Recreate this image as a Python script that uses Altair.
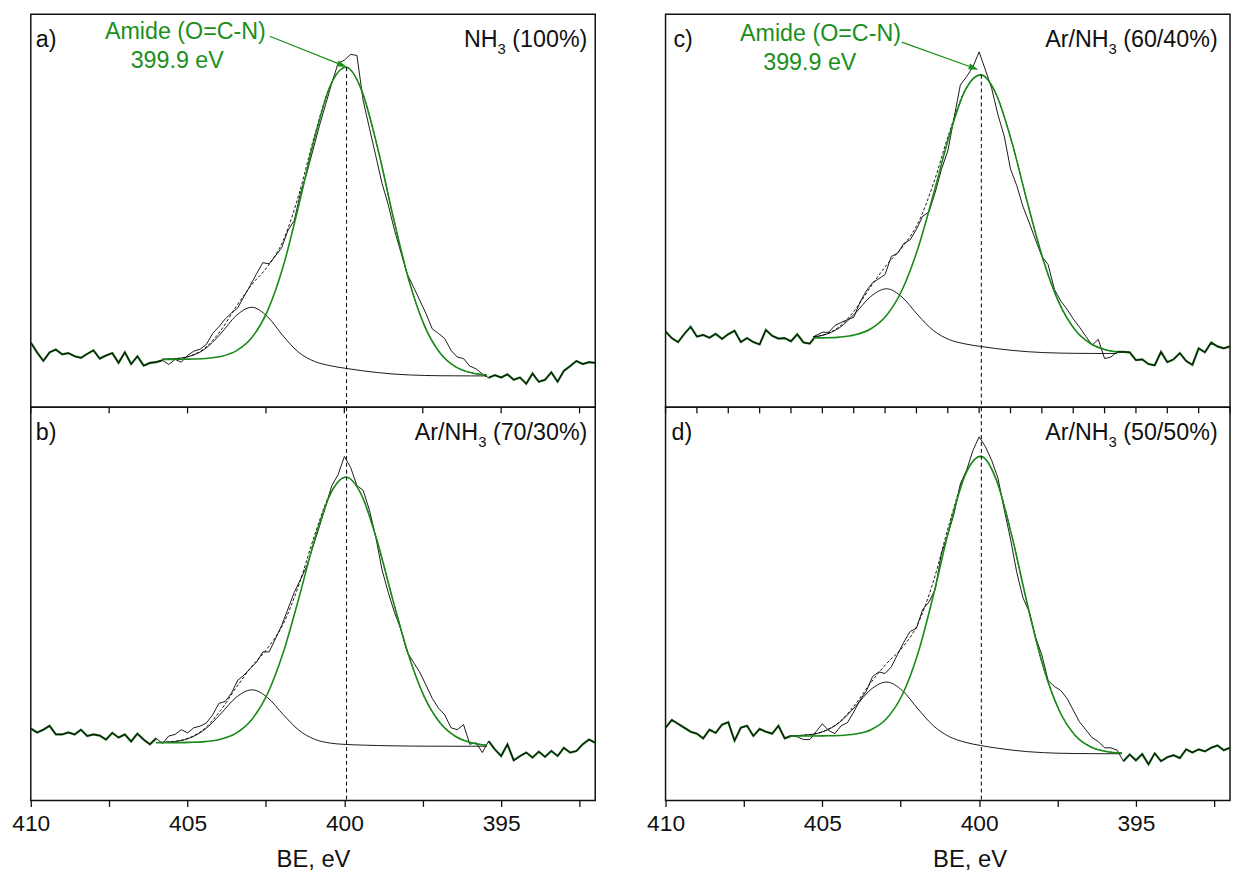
import altair as alt
import pandas as pd

# ---------------- data ----------------
# binding-energy grid of the measured spectra (eV), 410 -> 392 in 0.2 eV steps
E = [round(410 - 0.2 * i, 1) for i in range(91)]

RAW_A = [16.5, 14.0, 11.8, 14.0, 14.7, 13.5, 13.8, 13.0, 12.6, 13.6,
         14.5, 12.4, 13.2, 13.8, 11.3, 14.0, 11.0, 13.0, 10.6, 11.3,
         11.5, 12.0, 10.9, 12.2, 11.5, 13.2, 14.3, 14.8, 16.0, 18.8,
         20.5, 22.5, 24.0, 25.3, 28.2, 31.0, 34.0, 36.8, 36.5, 38.5,
         40.6, 45.0, 47.5, 54.5, 59.5, 65.5, 71.5, 77.0, 82.5, 87.5,
         88.3, 89.8, 89.5, 78.0, 71.0, 64.0, 57.0, 51.5, 45.0, 39.5,
         34.0, 30.7, 27.3, 23.9, 20.0, 18.8, 17.5, 14.5, 12.8, 12.4,
         10.5, 9.8, 8.5, 7.5, 8.2, 7.6, 8.4, 7.0, 7.6, 6.0,
         8.6, 6.5, 7.0, 8.9, 6.5, 9.3, 10.5, 11.8, 11.0, 11.5, 11.3]

RAW_B = [18.3, 17.3, 18.0, 19.0, 16.8, 16.8, 17.3, 16.8, 18.0, 16.4,
         16.8, 16.5, 15.5, 17.2, 16.0, 16.8, 15.0, 17.0, 15.5, 14.3,
         15.8, 14.5, 16.4, 16.8, 18.0, 17.2, 18.5, 18.9, 19.7, 21.8,
         24.7, 25.2, 27.3, 30.6, 31.9, 33.6, 35.2, 37.8, 37.8, 41.1,
         44.5, 48.7, 52.9, 56.2, 59.6, 64.6, 69.6, 74.7, 80.1, 82.9,
         87.5, 84.7, 80.1, 78.9, 73.8, 67.1, 58.7, 52.9, 47.8, 43.6,
         37.8, 35.2, 32.7, 29.4, 26.0, 23.5, 21.8, 18.5, 18.0, 19.3,
         14.3, 14.7, 12.2, 15.1, 13.0, 11.3, 14.3, 10.2, 11.3, 12.2,
         10.9, 12.4, 11.1, 12.6, 11.3, 13.4, 12.2, 12.6, 14.3, 15.5, 14.7]

RAW_C = [19.3, 17.6, 16.6, 18.7, 20.5, 18.0, 18.4, 17.7, 18.7, 17.4,
         18.6, 19.5, 16.6, 17.6, 16.6, 16.0, 19.7, 18.2, 17.5, 17.6,
         16.8, 18.6, 16.5, 16.2, 18.3, 19.1, 19.1, 20.8, 21.6, 22.3,
         22.9, 26.7, 29.6, 31.7, 32.7, 33.8, 38.4, 39.2, 41.7, 42.6,
         45.3, 48.6, 49.7, 54.7, 60.6, 65.2, 73.6, 82.0, 84.1, 86.6,
         90.4, 85.8, 81.1, 74.4, 69.0, 60.6, 56.4, 51.0, 46.9, 42.6,
         38.4, 36.3, 30.0, 27.1, 25.0, 22.5, 20.4, 18.1, 15.8, 17.3,
         12.4, 12.8, 14.1, 14.1, 14.0, 12.0, 12.2, 11.0, 10.7, 14.1,
         11.5, 12.2, 13.8, 11.8, 10.8, 15.0, 14.0, 16.5, 15.5, 15.0, 15.5]

RAW_D = [18.5, 20.5, 19.5, 18.5, 17.5, 17.0, 15.8, 18.0, 17.2, 19.3,
         19.9, 15.2, 18.5, 19.0, 16.4, 18.2, 17.5, 17.0, 19.0, 15.8,
         16.4, 16.2, 15.5, 15.5, 17.5, 19.5, 17.8, 17.0, 19.0, 19.8,
         22.5, 25.5, 27.8, 31.5, 32.7, 32.3, 34.0, 37.2, 40.3, 43.0,
         43.8, 48.6, 50.5, 53.7, 62.9, 67.5, 73.0, 80.5, 84.0, 89.0,
         92.5, 90.0, 86.5, 82.0, 74.0, 66.5, 58.0, 51.5, 48.0, 41.5,
         37.0, 30.5, 29.0, 28.0, 26.0, 23.0, 20.0, 18.0, 16.0, 15.0,
         13.4, 13.4, 12.8, 10.0, 11.7, 10.2, 11.8, 9.2, 12.0, 10.0,
         11.0, 11.5, 10.8, 13.0, 12.2, 13.0, 12.5, 13.4, 14.0, 12.8, 13.4]

# fitted curves: energies, background, amide component and second component (above background)
GRID = [405.45, 404.95, 404.45, 403.95, 403.45, 402.95, 402.45, 401.95, 401.45, 400.95,
        400.45, 399.95, 399.45, 398.95, 398.45, 397.95, 397.45, 396.95, 396.45, 395.95, 395.45]

FX_A = [405.8] + GRID
BG_A = [12.2, 12.2, 12.2, 12.18, 12.14, 12.07, 11.95, 11.79, 11.59, 11.31, 10.94,
        10.45, 9.89, 9.33, 8.85, 8.48, 8.25, 8.11, 8.04, 8.02, 8.0, 8.0]
GR_A = [0.0, 0.01, 0.06, 0.23, 0.78, 2.28, 5.79, 12.75, 24.3, 40.2, 57.5,
        71.3, 76.6, 71.3, 57.5, 40.2, 24.3, 12.75, 5.79, 2.28, 0.78, 0.23]
BK_A = [0.04, 0.14, 0.74, 2.64, 6.53, 11.26, 13.5, 11.26, 6.53, 2.64, 0.74,
        0.14, 0.02, 0, 0, 0, 0, 0, 0, 0, 0, 0]

FX_B = [406.0] + GRID
BG_B = [14.7, 14.7, 14.7, 14.7, 14.69, 14.67, 14.65, 14.61, 14.57, 14.51, 14.43,
        14.32, 14.2, 14.09, 13.98, 13.9, 13.85, 13.82, 13.81, 13.8, 13.8, 13.8]
GR_B = [0.0, 0.02, 0.08, 0.28, 0.9, 2.48, 5.97, 12.55, 23.06, 37.0, 51.9,
        63.55, 68.0, 63.55, 51.9, 37.0, 23.06, 12.55, 5.97, 2.48, 0.9, 0.28]
BK_B = [0.05, 0.28, 1.14, 3.37, 7.28, 11.57, 13.5, 11.57, 7.28, 3.37, 1.14,
        0.28, 0.05, 0.01, 0, 0, 0, 0, 0, 0, 0, 0]

FX_C = [405.3] + GRID[1:20] + [395.6]
BG_C = [17.6, 17.6, 17.58, 17.55, 17.48, 17.36, 17.22, 17.03, 16.78, 16.43, 15.97,
        15.46, 14.94, 14.49, 14.15, 13.93, 13.8, 13.74, 13.71, 13.7, 13.7]
GR_C = [0.03, 0.08, 0.29, 0.91, 2.52, 6.07, 12.76, 23.43, 37.61, 52.74, 64.58,
        69.1, 64.58, 52.74, 37.61, 23.43, 12.76, 6.07, 2.52, 0.91, 0.41]
BK_C = [0.28, 0.8, 2.7, 6.41, 10.76, 12.8, 10.76, 6.41, 2.7, 0.8, 0.17,
        0.03, 0, 0, 0, 0, 0, 0, 0, 0, 0]

FX_D = [406.05] + GRID
BG_D = [16.4, 16.4, 16.4, 16.38, 16.34, 16.26, 16.13, 15.96, 15.74, 15.45, 15.05,
        14.52, 13.93, 13.33, 12.81, 12.42, 12.16, 12.02, 11.95, 11.92, 11.9, 11.9]
GR_D = [0.0, 0.01, 0.04, 0.15, 0.56, 1.75, 4.73, 10.93, 21.71, 37.04, 54.24,
        68.19, 73.6, 68.19, 54.24, 37.04, 21.71, 10.93, 4.73, 1.75, 0.56, 0.15]
BK_D = [0.04, 0.30, 1.19, 3.49, 7.55, 12.0, 14.0, 12.0, 7.55, 3.49, 1.19,
        0.30, 0.05, 0.01, 0, 0, 0, 0, 0, 0, 0, 0]

PEAK_E = 399.93
LETTERS = ["a)", "b)", "c)", "d)"]
LABELS = [("NH", "3", " (100%)"), ("Ar/NH", "3", " (70/30%)"),
          ("Ar/NH", "3", " (60/40%)"), ("Ar/NH", "3", " (50/50%)")]
AMIDE = ["Amide (O=C-N)", "399.9 eV"]
TICKS_MAJOR = [410, 407.5, 405, 402.5, 400, 397.5, 395, 392.5]
TICKS_FINE = list(range(410, 391, -1))

# ---------------- styling ----------------
W, H = 570, 397
FONT = "Liberation Sans"
FS = 23.5
SUB = 15
INK = "#111111"
GREEN = "#1b8f1b"
GREEN_LINE = "#178a17"
DARKG = "#1f6a1f"

CW = {'(': 0.333, ')': 0.333, '%': 0.889, '/': 0.278, ' ': 0.278, 'A': 0.667,
      'r': 0.333, 'N': 0.722, 'H': 0.722}


def tw(s, fs):
    return sum(CW.get(ch, 0.556) for ch in s) * fs


XS = alt.Scale(domain=[410, 392], nice=False, zero=False)
YS = alt.Scale(domain=[0, 100], nice=False, zero=False)

COMMON_AX = dict(grid=False, domain=False, tickColor=INK, tickWidth=1.3)


def bottom_axis(title_x=None):
    kw = dict(values=TICKS_MAJOR,
              labelExpr="datum.value % 5 == 0 ? format(datum.value, 'd') : ''",
              tickSize=6, labelFont=FONT, labelFontSize=23, labelColor=INK,
              labelPadding=6, labelFlush=False, labelOverlap=False,
              title="BE, eV", titleFont=FONT, titleFontSize=24,
              titleFontWeight="normal", titleColor=INK, titlePadding=13,
              **COMMON_AX)
    if title_x is not None:
        kw["titleX"] = title_x
    return alt.Axis(**kw)


def panel(idx, raw, fx, bg, gr, bk, axis, dash_top, right_pad, left_pad,
          amide=None, sep_ticks=None):
    xa = alt.X("E:Q", scale=XS, axis=axis)
    rdf = pd.DataFrame({"E": E, "I": raw})
    s, e = fx[0], fx[-1]
    out = rdf[(rdf.E >= s - 0.15) | (rdf.E <= e + 0.15)].copy()
    out["seg"] = ["L" if v > 400 else "R" for v in out.E]
    fdf = pd.DataFrame({
        "E": fx,
        "green": [b + g for b, g in zip(bg, gr)],
        "black": [b + k for b, k in zip(bg, bk)],
        "env": [b + g + k for b, g, k in zip(bg, gr, bk)],
    })
    layers = [
        alt.Chart(out).mark_line(color=DARKG, strokeWidth=2.2, clip=True).encode(
            x=xa, y=alt.Y("I:Q", scale=YS, axis=None), detail="seg:N"),
        alt.Chart(rdf).mark_line(color="black", strokeWidth=0.9, clip=True).encode(
            x=xa, y=alt.Y("I:Q", scale=YS, axis=None)),
        alt.Chart(fdf).mark_line(color="black", strokeWidth=0.9, strokeDash=[3, 2],
                                 interpolate="monotone").encode(
            x=xa, y=alt.Y("env:Q", scale=YS, axis=None)),
        alt.Chart(fdf).mark_line(color="black", strokeWidth=0.9,
                                 interpolate="monotone").encode(
            x=xa, y=alt.Y("black:Q", scale=YS, axis=None)),
        alt.Chart(fdf).mark_line(color=GREEN_LINE, strokeWidth=1.6,
                                 interpolate="monotone").encode(
            x=xa, y=alt.Y("green:Q", scale=YS, axis=None)),
        alt.Chart(pd.DataFrame({"E": [PEAK_E], "top": [dash_top], "bot": [0]}))
        .mark_rule(color="black", strokeWidth=1, strokeDash=[4, 3]).encode(
            x=xa, y=alt.Y("top:Q", scale=YS, axis=None), y2="bot:Q"),
    ]
    if sep_ticks is not None:
        # tick marks hanging from the shared border with the panel above
        layers.append(alt.Chart(pd.DataFrame({"E": sep_ticks})).mark_rule(
            color=INK, strokeWidth=1.3).encode(
            x=xa, y=alt.value(0), y2=alt.value(6)))
    one = pd.DataFrame({"k": [0]})
    # panel letter
    layers.append(alt.Chart(one).mark_text(
        text=LETTERS[idx], align="left", baseline="alphabetic", font=FONT,
        fontSize=FS, color=INK).encode(x=alt.value(left_pad), y=alt.value(33)))
    # right label with subscript
    p1, p2, p3 = LABELS[idx]
    xr = W - right_pad
    x2 = xr - tw(p3, FS)
    x1 = x2 - tw(p2, SUB)
    for txt, xx, yy, fs in [(p3, xr, 33, FS), (p2, x2, 40.5, SUB), (p1, x1, 33, FS)]:
        layers.append(alt.Chart(one).mark_text(
            text=txt, align="right", baseline="alphabetic", font=FONT,
            fontSize=fs, color=INK).encode(x=alt.value(xx), y=alt.value(yy)))
    if amide is not None:
        (tx1, ty1), (tx2, ty2), (ax0, ay0), (ax1, ay1), ang = amide
        layers.append(alt.Chart(pd.DataFrame({"E": [tx1]})).mark_text(
            text=AMIDE[0], align="center", baseline="alphabetic", font=FONT,
            fontSize=FS, color=GREEN).encode(x=xa, y=alt.value(ty1)))
        layers.append(alt.Chart(pd.DataFrame({"E": [tx2]})).mark_text(
            text=AMIDE[1], align="center", baseline="alphabetic", font=FONT,
            fontSize=FS, color=GREEN).encode(x=xa, y=alt.value(ty2)))
        adf = pd.DataFrame({"E": [ax0, ax1], "I": [ay0, ay1]})
        layers.append(alt.Chart(adf).mark_line(color=GREEN, strokeWidth=1.2).encode(
            x=xa, y=alt.Y("I:Q", scale=YS, axis=None)))
        layers.append(alt.Chart(adf.iloc[[1]]).mark_point(
            shape="M -1 -0.62 L 1 0 L -1 0.62 Z", size=100, filled=True,
            color=GREEN, opacity=1, angle=ang, strokeWidth=0).encode(
            x=xa, y=alt.Y("I:Q", scale=YS, axis=None)))
    return alt.layer(*layers).properties(width=W, height=H)


pa = panel(0, RAW_A, FX_A, BG_A, GR_A, BK_A, None, 86.5, 8, 5,
           amide=((405.07, 25), (405.33, 54), (402.38, 94.4), (400.07, 87.04), 21.8))
pb = panel(1, RAW_B, FX_B, BG_B, GR_B, BK_B, bottom_axis(), 100, 8, 5,
           sep_ticks=TICKS_MAJOR)
pc = panel(2, RAW_C, FX_C, BG_C, GR_C, BK_C, None, 84.6, 12.5, 8,
           amide=((405.06, 27), (405.4, 56), (402.47, 92.9), (400.17, 86.3), 19.8))
pd_ = panel(3, RAW_D, FX_D, BG_D, GR_D, BK_D, bottom_axis(title_x=307), 100, 12.5, 6,
            sep_ticks=TICKS_FINE)

left = alt.vconcat(pa, pb, spacing=0, bounds="flush")
right = alt.vconcat(pc, pd_, spacing=0, bounds="flush")

chart = alt.hconcat(left, right, spacing=50).properties(
    padding={"left": 3, "top": 1, "right": 0, "bottom": 0}
).configure_view(stroke=INK, strokeWidth=1.5)

chart.save("out.html", embed_options={"renderer": "svg", "actions": False})
